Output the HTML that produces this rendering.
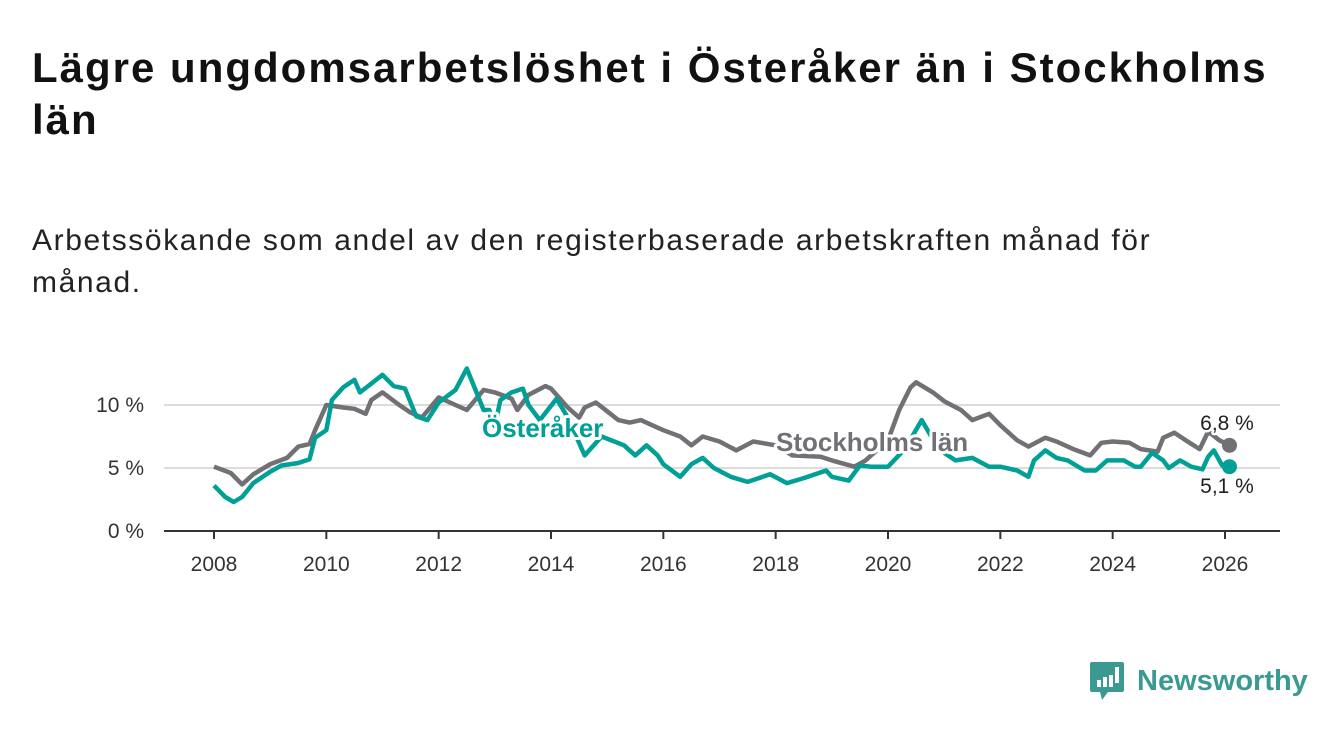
<!DOCTYPE html>
<html><head><meta charset="utf-8"><style>
body{margin:0;width:1340px;height:734px;background:#fff;font-family:"Liberation Sans","DejaVu Sans",sans-serif;overflow:hidden;position:relative}
#title{position:absolute;left:32px;top:42px;width:1308px;font-size:42px;letter-spacing:2px;font-weight:bold;line-height:52px;color:#111;white-space:nowrap}
#sub{position:absolute;left:32px;top:220px;width:1300px;font-size:30px;letter-spacing:1.6px;line-height:42px;color:#222;white-space:nowrap}
svg{position:absolute;left:0;top:0}
</style></head><body>
<div id="title">Lägre ungdomsarbetslöshet i Österåker än i Stockholms<br>län</div>
<div id="sub">Arbetssökande som andel av den registerbaserade arbetskraften månad för<br>månad.</div>
<svg id="chart" width="1340" height="734"></svg>
<script>
const yTicks=[0,5,10];
const yTickLabels=["0 %","5 %","10 %"];
const xTicks=[2008,2010,2012,2014,2016,2018,2020,2022,2024,2026];
const sthlmDates=[2008.0,2008.3,2008.5,2008.7,2009.0,2009.3,2009.5,2009.7,2009.8,2010.0,2010.3,2010.5,2010.7,2010.8,2011.0,2011.3,2011.5,2011.7,2012.0,2012.3,2012.5,2012.8,2013.0,2013.3,2013.4,2013.6,2013.9,2014.0,2014.3,2014.5,2014.6,2014.8,2015.0,2015.2,2015.4,2015.6,2015.8,2016.0,2016.3,2016.5,2016.7,2017.0,2017.3,2017.6,2018.0,2018.3,2018.8,2019.0,2019.4,2019.6,2020.0,2020.2,2020.4,2020.5,2020.8,2021.0,2021.3,2021.5,2021.8,2022.0,2022.3,2022.5,2022.8,2023.0,2023.3,2023.6,2023.8,2024.0,2024.3,2024.5,2024.8,2024.9,2025.1,2025.3,2025.55,2025.7,2025.9,2026.08];
const sthlmValues=[5.1,4.6,3.7,4.5,5.3,5.8,6.7,6.9,8.0,10,9.8,9.7,9.3,10.4,11,10,9.4,9.0,10.6,10,9.6,11.2,11,10.5,9.6,10.8,11.5,11.3,9.8,9.0,9.8,10.2,9.5,8.8,8.6,8.8,8.4,8.0,7.5,6.8,7.5,7.1,6.4,7.1,6.8,6.0,5.9,5.6,5.1,5.6,7.2,9.6,11.4,11.8,11.0,10.3,9.6,8.8,9.3,8.4,7.2,6.7,7.4,7.1,6.5,6.0,7.0,7.1,7.0,6.5,6.3,7.4,7.8,7.2,6.5,7.9,7.2,6.8];
const ostDates=[2008.0,2008.2,2008.35,2008.5,2008.7,2009.0,2009.2,2009.5,2009.7,2009.8,2010.0,2010.1,2010.3,2010.5,2010.6,2010.8,2011.0,2011.2,2011.4,2011.6,2011.8,2012.0,2012.3,2012.5,2012.8,2012.9,2013.0,2013.1,2013.3,2013.5,2013.6,2013.8,2014.1,2014.3,2014.6,2014.9,2015.3,2015.5,2015.7,2015.9,2016.0,2016.3,2016.5,2016.7,2016.9,2017.2,2017.5,2017.9,2018.2,2018.5,2018.9,2019.0,2019.3,2019.5,2019.7,2019.9,2020.0,2020.3,2020.6,2020.9,2021.2,2021.5,2021.8,2022.0,2022.3,2022.5,2022.6,2022.8,2023.0,2023.2,2023.5,2023.7,2023.9,2024.2,2024.4,2024.5,2024.7,2024.9,2025.0,2025.2,2025.4,2025.6,2025.7,2025.8,2025.95,2026.08];
const ostValues=[3.6,2.7,2.3,2.7,3.8,4.7,5.2,5.4,5.7,7.4,8,10.4,11.4,12,11,11.7,12.4,11.5,11.3,9.1,8.8,10.2,11.2,12.9,9.6,9.6,8.3,10.4,11,11.3,10,8.8,10.5,9,6.0,7.5,6.8,6.0,6.8,6.0,5.3,4.3,5.3,5.8,5.0,4.3,3.9,4.5,3.8,4.2,4.8,4.3,4.0,5.2,5.1,5.1,5.1,6.5,8.8,6.5,5.6,5.8,5.1,5.1,4.8,4.3,5.6,6.4,5.8,5.6,4.8,4.8,5.6,5.6,5.1,5.1,6.2,5.6,5.0,5.6,5.1,4.9,5.9,6.4,5.2,5.1];
const NS="http://www.w3.org/2000/svg";
const svg=document.getElementById('chart');
const X0=164,X1=1280,Y0=531;
function xs(t){return 214+(t-2008)*(1225-214)/18;}
function ys(v){return Y0-v*12.6;}
function mk(tag,attrs,parent){const e=document.createElementNS(NS,tag);for(const k in attrs)e.setAttribute(k,attrs[k]);(parent||svg).appendChild(e);return e;}
yTicks.forEach((v,i)=>{
  if(v>0){const g=mk('line',{x1:X0,x2:X1,y1:ys(v),y2:ys(v),stroke:'#dcdcdc','stroke-width':2});
  
  }
  const t=mk('text',{x:144,y:ys(v)+7,'text-anchor':'end','font-size':21,fill:'#333'});
  
  
  t.textContent=yTickLabels[i];
});
const ax=mk('line',{x1:X0,x2:X1,y1:Y0,y2:Y0,stroke:'#333','stroke-width':2});


xTicks.forEach(yr=>{
  const l=mk('line',{x1:xs(yr),x2:xs(yr),y1:Y0,y2:Y0+8,stroke:'#333','stroke-width':2});
  
  
  const t=mk('text',{x:xs(yr),y:Y0+40,'text-anchor':'middle','font-size':21,fill:'#333'});
  
  
  t.textContent=yr;
});
function line(d,v,col,name){
  const p=mk('path',{d:d.map((t,i)=>(i?'L':'M')+xs(t).toFixed(1)+','+ys(v[i]).toFixed(1)).join(''),fill:'none',stroke:col,'stroke-width':4.5,'stroke-linejoin':'round'});
  
  
  const n=d.length-1;
  const c=mk('circle',{cx:xs(d[n]),cy:ys(v[n]),r:7.5,fill:col});
  
  
}
line(sthlmDates,sthlmValues,'#717075','stockholm-line');
line(ostDates,ostValues,'#00a096','osteraker-line');
function label(txt,x,y,col,name,anchor,bold,size){
  const t=mk('text',{x:x,y:y,'text-anchor':anchor,'font-size':size,'font-weight':bold?'bold':'normal',fill:col,stroke:'#fff','stroke-width':bold?6:5,'paint-order':'stroke','stroke-linejoin':'round'});
  
  
  t.textContent=txt;
}
label('Österåker',482,437,'#00a096','osteraker-label','start',true,26);
label('Stockholms län',776,451,'#717075','stockholm-label','start',true,26);
label(sthlmValues[sthlmValues.length-1].toFixed(1).replace('.',',')+' %',1227,430,'#222','stockholm-end-value','middle',false,21);
label(ostValues[ostValues.length-1].toFixed(1).replace('.',',')+' %',1227,493,'#222','osteraker-end-value','middle',false,21);
const lg=mk('g',{});


mk('path',{d:'M1092,662 h30 a2,2 0 0 1 2,2 v26 a2,2 0 0 1 -2,2 h-14 l-6,8 l-2,-8 h-8 a2,2 0 0 1 -2,-2 v-26 a2,2 0 0 1 2,-2z',fill:'#3a9a91'},lg);
[[1097,680,4,7],[1103,677,4,10],[1109,675,4,12],[1115,667,4,16]].forEach(r=>mk('rect',{x:r[0],y:r[1],width:r[2],height:r[3],fill:'#fff'},lg));
const lt=mk('text',{x:1137,y:690,'font-size':29,'font-weight':'bold',fill:'#3a9a91'},lg);
lt.textContent='Newsworthy';
</script>
</body></html>
